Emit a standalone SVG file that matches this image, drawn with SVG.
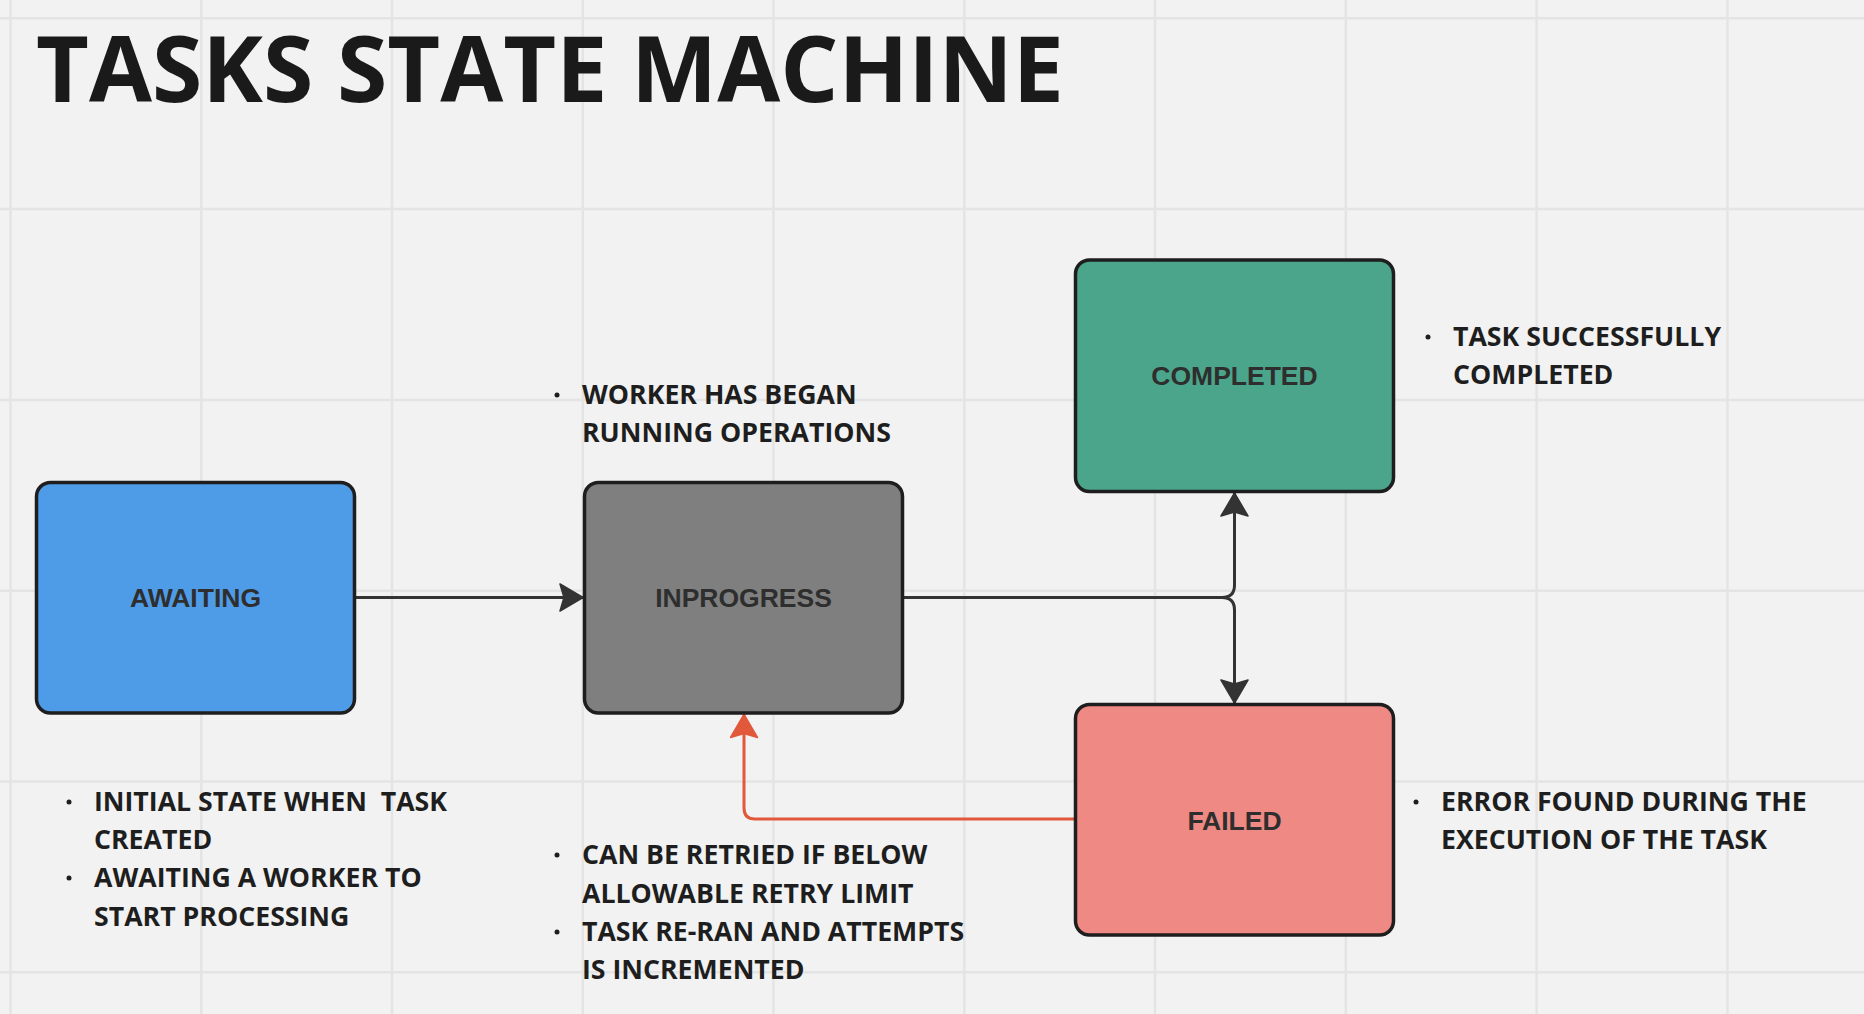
<svg xmlns="http://www.w3.org/2000/svg" width="1864" height="1014" viewBox="0 0 1864 1014">
<style>
.grid line{stroke:#E4E4E4;stroke-width:2.5}
.box{stroke:#1E1E1E;stroke-width:3.5}
.lbl{font-family:"Liberation Sans",Arial,sans-serif;font-weight:bold;font-size:26.5px;fill:#2E2E2E;text-anchor:middle}
.note{font-family:"Open Sans","Noto Sans",sans-serif;font-weight:bold;font-size:26.7px;fill:#1E1E1E;white-space:pre}
.dot{fill:#1E1E1E}
.conn{fill:none;stroke:#333333;stroke-width:3}
.conn.red{stroke:#E2583B}
</style>
<defs>
<marker id="ah" viewBox="0 0 25 29" refX="24" refY="14.5" markerWidth="25" markerHeight="29" markerUnits="userSpaceOnUse" orient="auto">
<path d="M1,1 L24,14.5 L1,28 L5,14.5 Z" fill="#333333" stroke="#333333" stroke-width="1.5" stroke-linejoin="round"/>
</marker>
<marker id="ahr" viewBox="0 0 25 29" refX="24" refY="14.5" markerWidth="25" markerHeight="29" markerUnits="userSpaceOnUse" orient="auto">
<path d="M1,1 L24,14.5 L1,28 L5,14.5 Z" fill="#E2583B" stroke="#E2583B" stroke-width="1.5" stroke-linejoin="round"/>
</marker>
</defs>
<rect width="1864" height="1014" fill="#F2F2F2"/>
<g class="grid">
<line x1="10.5" y1="0" x2="10.5" y2="1014"/>
<line x1="201.3" y1="0" x2="201.3" y2="1014"/>
<line x1="392" y1="0" x2="392" y2="1014"/>
<line x1="582.8" y1="0" x2="582.8" y2="1014"/>
<line x1="773.5" y1="0" x2="773.5" y2="1014"/>
<line x1="964.3" y1="0" x2="964.3" y2="1014"/>
<line x1="1155" y1="0" x2="1155" y2="1014"/>
<line x1="1345.8" y1="0" x2="1345.8" y2="1014"/>
<line x1="1536.6" y1="0" x2="1536.6" y2="1014"/>
<line x1="1727.5" y1="0" x2="1727.5" y2="1014"/>
<line x1="0" y1="18.3" x2="1864" y2="18.3"/>
<line x1="0" y1="209.1" x2="1864" y2="209.1"/>
<line x1="0" y1="399.9" x2="1864" y2="399.9"/>
<line x1="0" y1="590.7" x2="1864" y2="590.7"/>
<line x1="0" y1="781.5" x2="1864" y2="781.5"/>
<line x1="0" y1="972.3" x2="1864" y2="972.3"/>
</g>
<text x="36" y="102" font-family="Open Sans, Noto Sans, sans-serif" font-weight="bold" font-size="92" fill="#1A1A1A" textLength="1028" lengthAdjust="spacingAndGlyphs">TASKS STATE MACHINE</text>
<g id="connectors">
<path class="conn" d="M356,597.5 H583" marker-end="url(#ah)"/>
<path class="conn" d="M904,597.5 H1222 Q1234.5,597.5 1234.5,585 V493" marker-end="url(#ah)"/>
<path class="conn" d="M904,597.5 H1222 Q1234.5,597.5 1234.5,610 V703" marker-end="url(#ah)"/>
<path class="conn red" d="M1074,819 H755 Q744,819 744,808 V714.5" marker-end="url(#ahr)"/>
</g>
<g id="awaiting">
<rect class="box" x="36.5" y="482.5" width="318" height="230.5" rx="14" fill="#4E9BE7"/>
<text class="lbl" x="195.5" y="606.5">AWAITING</text>
</g>
<g id="inprogress">
<rect class="box" x="584.5" y="482.5" width="318" height="230.5" rx="14" fill="#7F7F7F"/>
<text class="lbl" x="743.5" y="606.5">INPROGRESS</text>
</g>
<g id="completed">
<rect class="box" x="1075.5" y="260" width="318" height="231.5" rx="14" fill="#4BA58A"/>
<text class="lbl" x="1234.5" y="384.5">COMPLETED</text>
</g>
<g id="failed">
<rect class="box" x="1075.5" y="704.5" width="318" height="230.5" rx="14" fill="#EF8984"/>
<text class="lbl" x="1234.5" y="829.5" fill="#222">FAILED</text>
</g>
<g id="note-inprogress">
<circle class="dot" cx="557" cy="395" r="2.5"/>
<text class="note" x="582" y="404">WORKER HAS BEGAN</text>
<text class="note" x="582" y="442">RUNNING OPERATIONS</text>
</g>
<g id="note-completed">
<circle class="dot" cx="1428" cy="337" r="2.5"/>
<text class="note" x="1453" y="346">TASK SUCCESSFULLY</text>
<text class="note" x="1453" y="384">COMPLETED</text>
</g>
<g id="note-awaiting">
<circle class="dot" cx="69" cy="802" r="2.5"/>
<text class="note" x="94" y="811">INITIAL STATE WHEN  TASK</text>
<text class="note" x="94" y="849">CREATED</text>
<circle class="dot" cx="69" cy="878" r="2.5"/>
<text class="note" x="94" y="887">AWAITING A WORKER TO</text>
<text class="note" x="94" y="926">START PROCESSING</text>
</g>
<g id="note-retry">
<circle class="dot" cx="557" cy="855" r="2.5"/>
<text class="note" x="582" y="864">CAN BE RETRIED IF BELOW</text>
<text class="note" x="582" y="903">ALLOWABLE RETRY LIMIT</text>
<circle class="dot" cx="557" cy="932" r="2.5"/>
<text class="note" x="582" y="941">TASK RE-RAN AND ATTEMPTS</text>
<text class="note" x="582" y="979">IS INCREMENTED</text>
</g>
<g id="note-failed">
<circle class="dot" cx="1416" cy="802" r="2.5"/>
<text class="note" x="1441" y="811">ERROR FOUND DURING THE</text>
<text class="note" x="1441" y="849">EXECUTION OF THE TASK</text>
</g>
</svg>
